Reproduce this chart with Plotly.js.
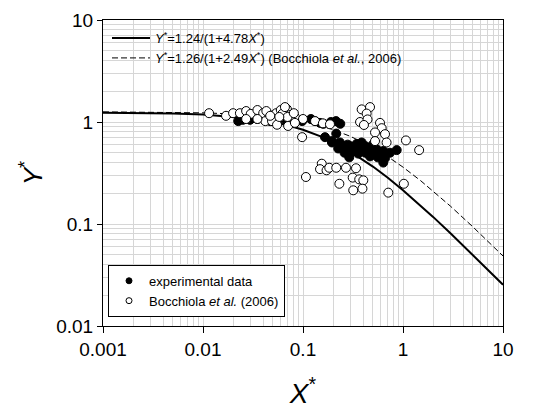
<!DOCTYPE html>
<html>
<head>
<meta charset="utf-8">
<script src="https://cdn.plot.ly/plotly-3.0.1.min.js"></script>
<style>html,body{margin:0;padding:0;background:#fff;}#chart{width:557px;height:411px;}</style>
</head>
<body>
<div id="chart"></div>
<script>
// Curves read along the plotted fits
const curveX = [0.001,0.002,0.005,0.01,0.02,0.03,0.05,0.07,0.1,0.15,0.2,0.3,0.5,0.7,1,1.5,2,3,5,7,10];
const fitY = [1.2341,1.2283,1.2111,1.1834,1.1318,1.0845,1.0008,0.9291,0.8390,0.7222,0.6339,0.5094,0.3658,0.2853,0.2145,0.1518,0.1174,0.0808,0.0498,0.0360,0.0254];
const bocFitY = [1.2569,1.2538,1.2445,1.2294,1.2002,1.1724,1.1205,1.0730,1.0088,0.9174,0.8411,0.7212,0.5612,0.4593,0.3610,0.2661,0.2107,0.1488,0.0937,0.0684,0.0486];

// experimental data
const expX = [0.0225,0.0234,0.025,0.0295,0.035,0.040,0.047,0.054,0.059,0.069,0.078,0.098,0.12,0.132,0.148,0.16,0.19,0.214,0.236,
  0.166,0.215,0.194,0.195,0.234,0.225,0.295,0.344,0.386,0.318,0.386,0.45,0.545,0.635,0.74,0.865,0.468,0.56,0.66,0.635,0.295,0.357,
  0.28,0.27,0.42,0.50,0.42,0.53,0.26,0.29,0.50,0.36,0.60];
const expY = [1.02,1.07,1.05,1.05,1.07,1.09,1.02,1.05,1.09,1.02,1.05,1.02,1.07,1.02,0.98,0.96,1.0,1.02,0.96,
  0.71,0.77,0.65,0.63,0.63,0.55,0.58,0.61,0.63,0.52,0.52,0.54,0.54,0.52,0.50,0.53,0.46,0.45,0.44,0.40,0.49,0.49,
  0.60,0.56,0.58,0.60,0.50,0.50,0.50,0.45,0.48,0.56,0.48];

// Bocchiola et al. (2006)
const bocX = [0.0115,0.017,0.020,0.0234,0.027,0.030,0.035,0.040,0.046,0.054,0.060,0.069,0.074,0.083,0.10,0.071,0.042,0.049,0.035,0.027,
  0.043,0.047,0.062,0.070,0.055,0.083,0.098,0.132,0.158,0.186,0.066,0.081,0.058,
  0.386,0.468,0.433,0.372,0.442,0.407,0.589,0.612,0.525,0.661,0.525,0.685,1.07,
  0.154,0.148,0.172,0.183,0.215,0.269,0.339,0.107,0.314,0.365,0.401,0.231,0.318,0.393,0.713,1.02,1.45];
const bocY = [1.22,1.15,1.22,1.22,1.28,1.20,1.31,1.22,1.17,1.22,1.31,1.34,1.17,1.12,1.07,0.914,1.02,1.02,1.07,1.07,
  1.28,1.15,1.20,1.12,0.94,0.98,0.71,1.02,0.97,0.95,1.40,1.22,1.12,
  1.33,1.40,1.21,1.0,1.06,0.935,0.98,0.87,0.79,0.76,0.65,0.63,0.66,
  0.39,0.345,0.336,0.356,0.356,0.356,0.352,0.289,0.285,0.274,0.268,0.248,0.214,0.222,0.203,0.248,0.53];

const xTicks = [0.001,0.01,0.1,1,10];
const xTickText = ['0.001','0.01','0.1','1','10'];
const yTicks = [0.01,0.1,1,10];
const yTickText = ['0.01','0.1','1','10'];

const FONT = 'Liberation Sans, Arial, sans-serif';
const expName = 'experimental data';
const bocName = 'Bocchiola <i>et al.</i> (2006)';

const traces = [
  {x: curveX, y: fitY, mode: 'lines', name: '<i>Y</i><sup>*</sup>=1.24/(1+4.78<i>X</i><sup>*</sup>)',
   line: {color: '#000', width: 2}, legend: 'legend'},
  {x: curveX, y: bocFitY, mode: 'lines', name: '<i>Y</i><sup>*</sup>=1.26/(1+2.49<i>X</i><sup>*</sup>) (Bocchiola <i>et al.</i>, 2006)',
   line: {color: '#000', width: 1, dash: '6px,3px'}, legend: 'legend'},
  {x: expX, y: expY, mode: 'markers', name: expName, showlegend: false,
   marker: {symbol: 'circle', size: 9, color: '#000', line: {color: '#000', width: 1}}},
  {x: bocX, y: bocY, mode: 'markers', name: bocName, showlegend: false,
   marker: {symbol: 'circle', size: 9, color: '#fff', line: {color: '#000', width: 1}}},
  // legend swatches (smaller symbols, as in the reference legend)
  {x: [null], y: [null], mode: 'markers', name: expName, legend: 'legend2',
   marker: {symbol: 'circle', size: 6, color: '#000', line: {color: '#000', width: 1}}},
  {x: [null], y: [null], mode: 'markers', name: bocName, legend: 'legend2',
   marker: {symbol: 'circle', size: 6, color: '#fff', line: {color: '#000', width: 1}}}
];

const gridC = '#d6d6d6';
const layout = {
  width: 557, height: 411,
  margin: {l: 103, r: 54, t: 20, b: 85},
  paper_bgcolor: '#fff', plot_bgcolor: '#fff',
  font: {family: FONT, color: '#000', size: 13},
  showlegend: true,
  xaxis: {
    type: 'log', range: [-3, 1], tickmode: 'array', tickvals: xTicks, ticktext: xTickText,
    showline: true, linecolor: '#000', linewidth: 1, mirror: true,
    ticks: 'outside', ticklen: 6, tickcolor: '#000',
    showgrid: true, gridcolor: gridC, gridwidth: 1, zeroline: false,
    minor: {dtick: 'D1', showgrid: true, gridcolor: gridC, gridwidth: 1, ticks: ''},
    tickfont: {size: 19, family: FONT},
    title: {text: '<i>X</i><sup>*</sup>', font: {size: 28, family: FONT}, standoff: 24}
  },
  yaxis: {
    type: 'log', range: [-2, 1], tickmode: 'array', tickvals: yTicks, ticktext: yTickText,
    showline: true, linecolor: '#000', linewidth: 1, mirror: true,
    ticks: 'outside', ticklen: 5, tickcolor: '#000',
    showgrid: true, gridcolor: gridC, gridwidth: 1, zeroline: false,
    minor: {dtick: 'D1', showgrid: true, gridcolor: gridC, gridwidth: 1, ticks: ''},
    tickfont: {size: 19, family: FONT},
    title: {text: '<i>Y</i><sup>*</sup>', font: {size: 26, family: FONT}, standoff: 6}
  },
  legend: {
    x: 0.01, y: 0.99, xanchor: 'left', yanchor: 'top',
    bgcolor: 'rgba(0,0,0,0)', borderwidth: 0, itemwidth: 38,
    font: {size: 13, family: FONT}, tracegroupgap: 0
  },
  legend2: {
    x: 0.0125, y: 0.03, xanchor: 'left', yanchor: 'bottom',
    bgcolor: '#fff', bordercolor: '#000', borderwidth: 1,
    font: {size: 13, family: FONT}
  }
};

Plotly.newPlot('chart', traces, layout, {displayModeBar: false, staticPlot: true});
</script>
</body>
</html>
